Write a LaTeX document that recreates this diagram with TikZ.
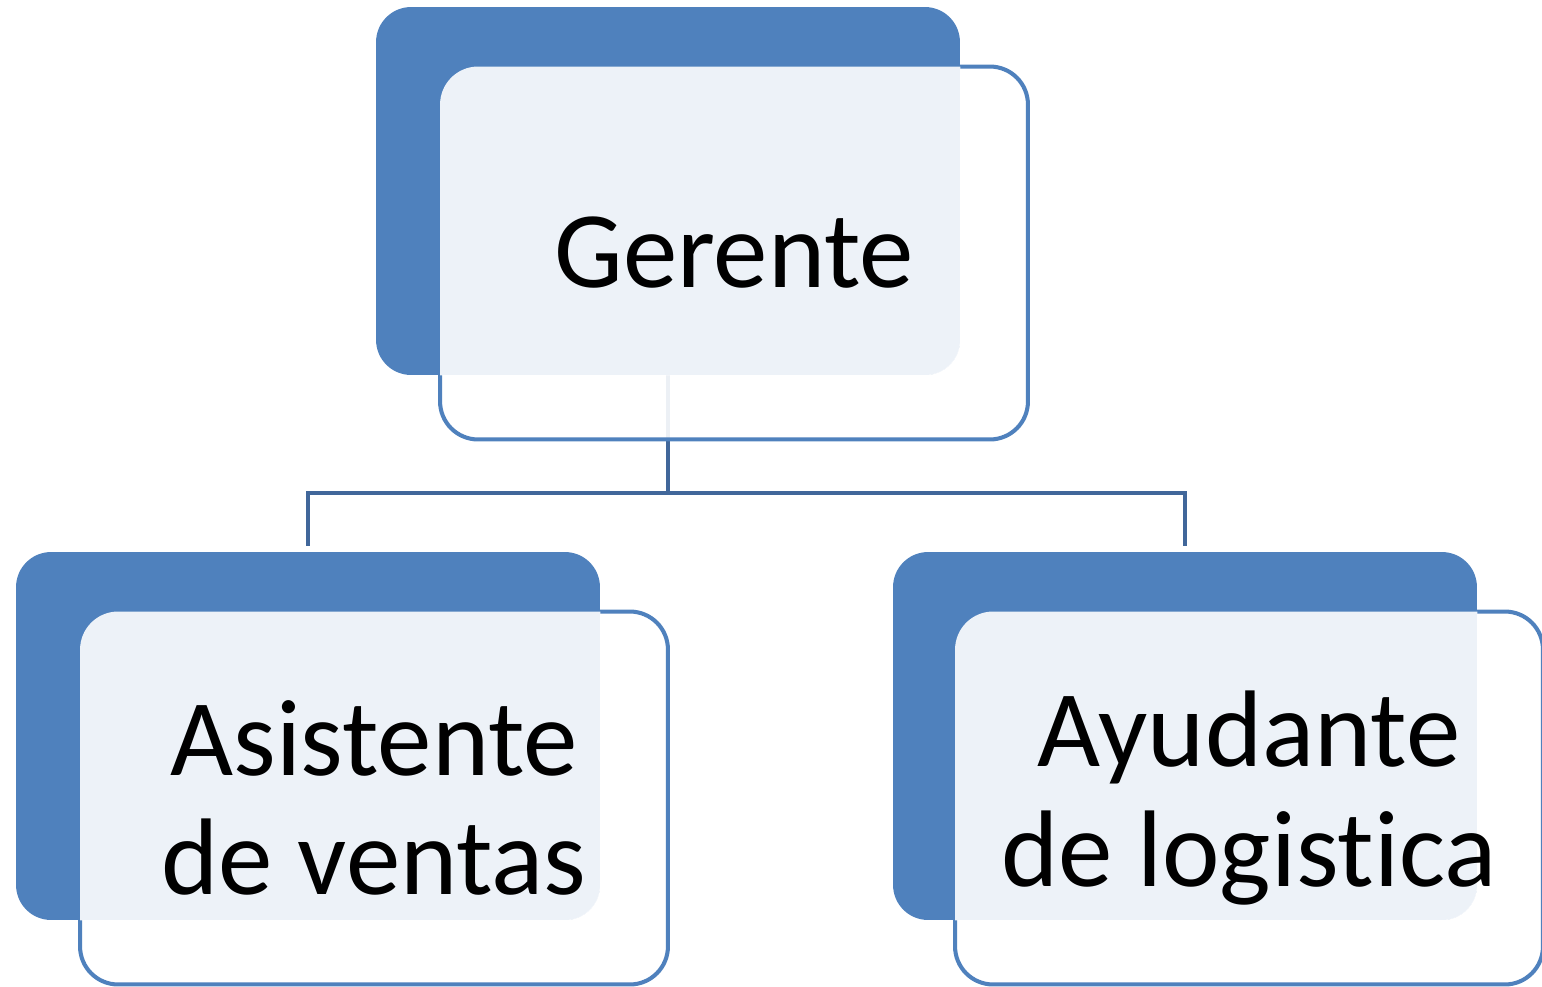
\documentclass[tikz,border=0pt]{standalone}
\usepackage{fontspec}
\setmainfont{Carlito}[Ligatures=NoCommon]
\usetikzlibrary{positioning, backgrounds}
\definecolor{azul}{HTML}{4F81BD}
\definecolor{azuloscuro}{HTML}{41679A}

\begin{document}
\begin{tikzpicture}[x=0.02cm, y=-0.02cm,
    bloque/.style={rectangle, rounded corners=0.7cm, minimum width=11.68cm, minimum height=7.36cm, fill=azul, inner sep=0pt},
    marco/.style={rectangle, rounded corners=0.76cm, minimum width=11.76cm, minimum height=7.46cm, draw=azul, line width=2.3pt, fill=white, fill opacity=0.9, inner sep=0pt, outer sep=0pt},
    claro/.style={fill=white, fill opacity=0.9},
    etiqueta/.style={align=center, font=\fontsize{62}{68}\selectfont},
    linea/.style={draw=azuloscuro, line width=2.3pt}
]
\useasboundingbox (0,0) rectangle (1542,987);

% Cajas
\node[marco] (gerente) at (734,253) {};
\node[bloque] (fondo-gerente) at (668,191) {};
\node[marco] (asistente) at (374,798) {};
\node[bloque] (fondo-asistente) at (308,736) {};
\node[marco] (ayudante) at (1249,798) {};
\node[bloque] (fondo-ayudante) at (1185,736) {};

% Zona clara donde se cruzan
\foreach \n in {gerente, asistente, ayudante} {
  \begin{scope}
    \clip[rounded corners=0.7cm] (fondo-\n.south west) rectangle (fondo-\n.north east);
    \fill[claro, rounded corners=0.76cm] (\n.south west) rectangle (\n.north east);
  \end{scope}
}

% Textos
\node[etiqueta] (txt-gerente) at (gerente) {Gerente};
\node[etiqueta] (txt-asistente) at (asistente) {Asistente\\de ventas};
\node[etiqueta] (txt-ayudante) at (ayudante) {Ayudante\\de logistica};

% Conexiones
\begin{scope}[on background layer]
\coordinate (bus) at (668,493);
\draw[linea] (fondo-gerente.south) -- (bus);
\draw[linea, shorten >=3pt] (bus) -| (fondo-asistente.north);
\draw[linea, shorten >=3pt] (bus) -| (fondo-ayudante.north);
\end{scope}

\end{tikzpicture}
\end{document}
